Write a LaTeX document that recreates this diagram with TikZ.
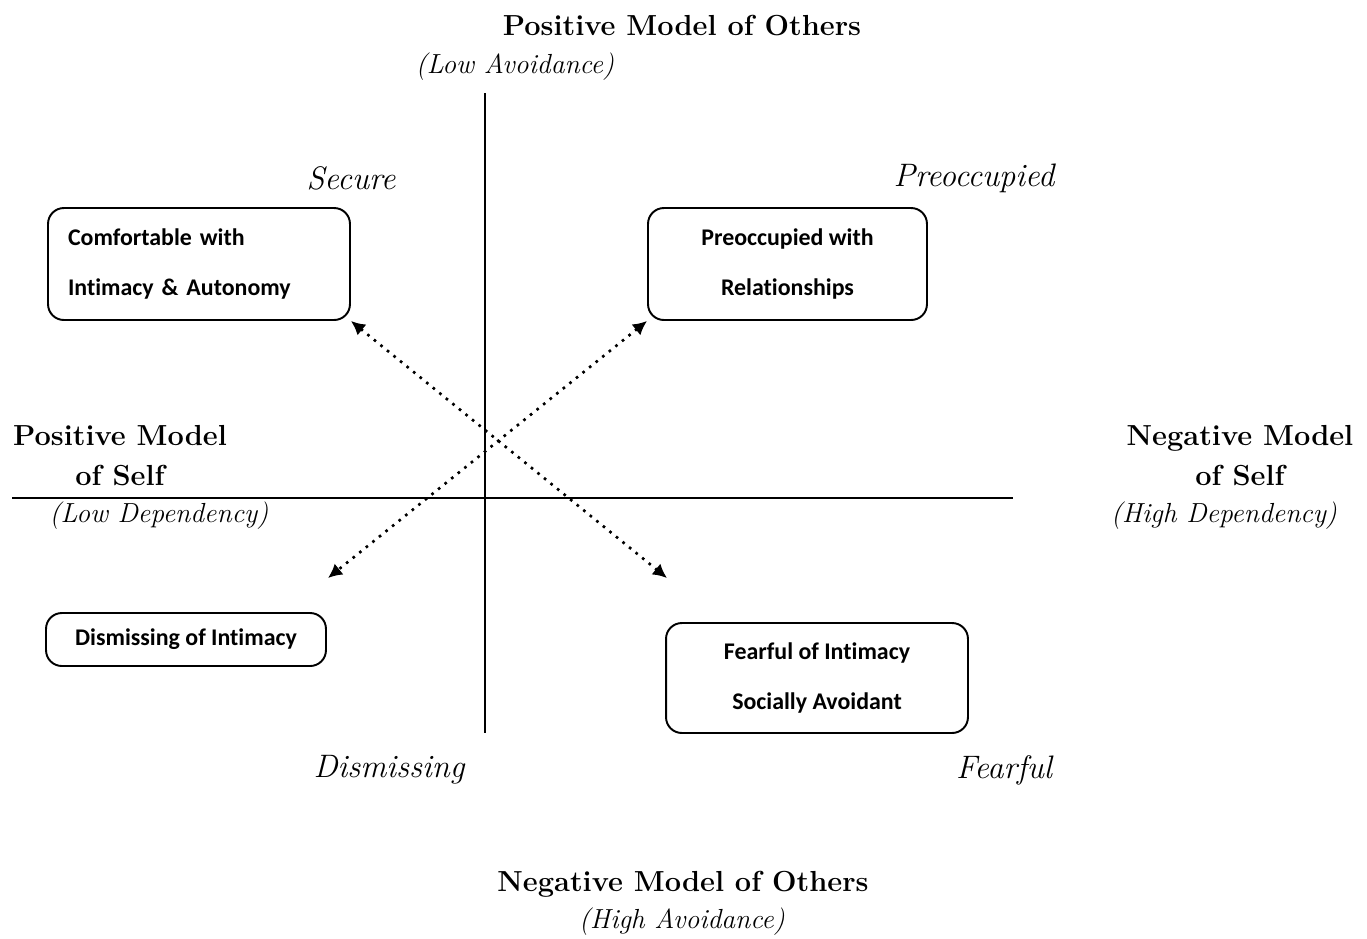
\documentclass[tikz,border=0pt]{standalone}
\usepackage{fontspec}
\newfontfamily\boxfont[Ligatures=NoCommon]{Carlito}
\usetikzlibrary{arrows.meta}

\begin{document}
\begin{tikzpicture}[x=0.02cm, y=-0.02cm,
    head/.style={font=\fontsize{16.5}{22.7}\selectfont\bfseries, align=center},
    sub/.style={font=\fontsize{15.7}{19}\selectfont\itshape},
    kind/.style={font=\fontsize{18.5}{22}\selectfont\itshape},
    stylebox/.style={draw, line width=1.1pt, rounded corners=9pt, inner xsep=0.4cm},
    boxtext/.style={font=\boxfont\bfseries\fontsize{13.6}{28.4}\selectfont},
    link/.style={line width=1.5pt, dash pattern=on 1.5pt off 3.3pt, {Latex[length=8pt,width=8pt]}-{Latex[length=8pt,width=8pt]}}]
        \useasboundingbox (0,0) rectangle (1367,938);
        % axes
        \coordinate (top) at (485,93);
        \coordinate (bot) at (485,733);
        \coordinate (lft) at (12,498);
        \coordinate (rgt) at (1013,498);
        \draw[line width=1.1pt] (top) -- (bot);
        \draw[line width=1.1pt] (lft) -- (rgt);
        % axis labels
        \node[head] (others+) at (682,26) {Positive Model of Others};
        \node[sub] (lowav) at (515,67) {(Low Avoidance)};
        \node[head] (others-) at (683,884) {Negative Model of Others};
        \node[sub] (highav) at (682,922) {(High Avoidance)};
        \node[head] (self+) at (120,456) {Positive Model\\of Self};
        \node[sub] (lowdep) at (159,516) {(Low Dependency)};
        \node[head] (self-) at (1240,456) {Negative Model\\of Self};
        \node[sub] (highdep) at (1224,516) {(High Dependency)};
        % styles
        \node[kind] (secure) at (351,178) {Secure};
        \node[kind] (preocc) at (974,178) {Preoccupied};
        \node[kind] (dismiss) at (389,770) {Dismissing};
        \node[kind] (fearful) at (1004,770) {Fearful};
        % boxes
        \node[stylebox, minimum height=2.24cm, text width=5.24cm, align=left, boxtext] (secbox) at (199,264) {Comfortable with\\Intimacy \& Autonomy};
        \node[stylebox, minimum width=5.58cm, minimum height=2.24cm, align=center, boxtext] (prebox) at (787.5,264) {Preoccupied with\\Relationships};
        \node[stylebox, minimum width=5.6cm, minimum height=1.06cm, align=center, boxtext] (disbox) at (186,639.5) {Dismissing of Intimacy};
        \node[stylebox, minimum width=6.04cm, minimum height=2.2cm, align=center, boxtext] (fearbox) at (817,678) {Fearful of Intimacy\\Socially Avoidant};
        % arrows
        \coordinate (feartip) at (667,578);
        \coordinate (distip) at (328,578);
        \draw[link] (secbox.south east) -- (feartip);
        \draw[link] (prebox.south west) -- (distip);
\end{tikzpicture}
\end{document}
